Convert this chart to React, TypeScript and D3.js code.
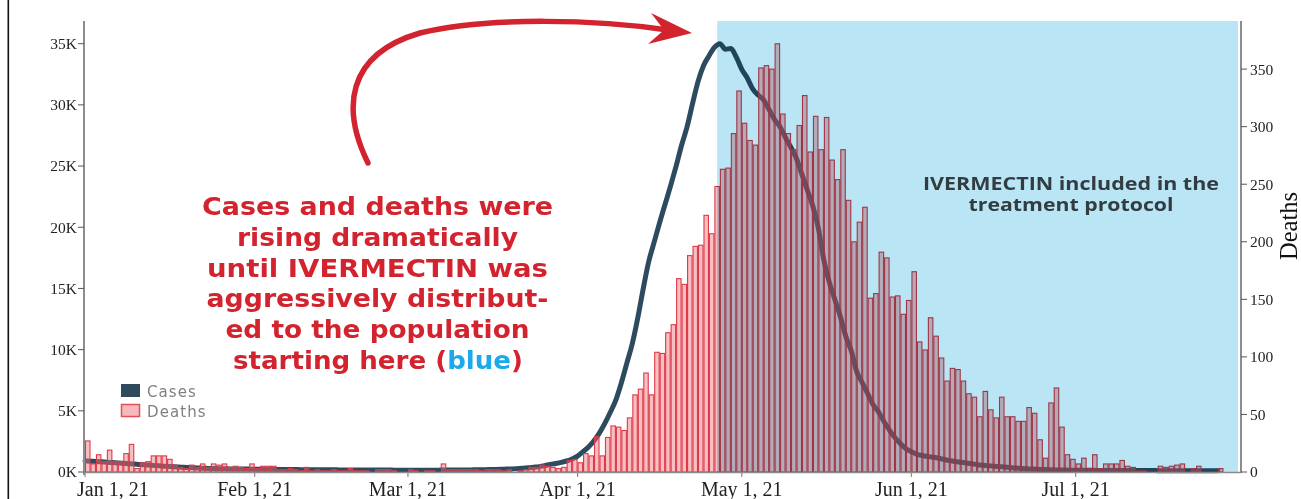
import React from "react";
import * as d3 from "d3";

// ---------- DATA ----------
const startDate = "2021-01-01";
// daily deaths (right axis), one per day from Jan 1, 2021
const deaths: number[] = [
  27, 7, 15, 9, 19, 9, 9, 16, 24, 3,
  8, 9, 14, 14, 14, 11, 6, 4, 3, 6,
  4, 7, 4, 7, 6, 7, 4, 5, 4, 3,
  7, 3, 5, 5, 5, 2, 2, 3, 2, 1,
  4, 1, 2, 1, 1, 2, 1, 1, 3, 1,
  1, 1, 0, 2, 2, 2, 1, 0, 0, 2,
  1, 0, 1, 1, 0, 7, 2, 2, 2, 2,
  2, 2, 1, 2, 2, 2, 1, 2, 0, 1,
  2, 4, 4, 6, 5, 4, 3, 4, 10, 11,
  8, 16, 14, 31, 14, 30, 40, 39, 36, 47,
  67, 72, 86, 67, 104, 103, 121, 128, 168, 163,
  188, 196, 197, 223, 207, 248, 263, 264, 294, 331,
  303, 288, 284, 351, 353, 350, 372, 311, 294, 280,
  301, 327, 278, 309, 280, 308, 271, 254, 280, 236,
  200, 217, 230, 151, 155, 191, 186, 152, 153, 137,
  149, 174, 113, 106, 134, 118, 99, 79, 90, 89,
  79, 68, 65, 48, 70, 54, 47, 65, 48, 48,
  44, 44, 56, 51, 28, 12, 60, 73, 39, 15,
  11, 7, 12, 3, 15, 3, 7, 7, 7, 10,
  5, 4, 1, 1, 0, 0, 5, 4, 5, 6,
  7, 0, 3, 5, 0, 0, 0, 3,
];
// daily cases (left axis)
const cases: number[] = [
  900, 880, 860, 830, 800, 770, 740, 710, 680, 650,
  610, 580, 550, 520, 490, 460, 430, 400, 380, 360,
  340, 320, 300, 290, 280, 270, 260, 250, 245, 240,
  235, 230, 225, 220, 215, 210, 205, 200, 200, 195,
  190, 190, 185, 180, 180, 175, 175, 170, 170, 165,
  165, 160, 160, 160, 155, 155, 155, 150, 150, 150,
  150, 150, 150, 150, 150, 155, 155, 160, 160, 165,
  170, 175, 180, 190, 200, 210, 225, 240, 255, 275,
  300, 340, 390, 440, 520, 620, 700, 790, 900, 1060,
  1300, 1660, 2050, 2550, 3200, 4000, 4900, 5900, 7300, 8900,
  10500, 12600, 15000, 17200, 18800, 20400, 21900, 23400, 25000, 26700,
  28200, 30100, 31900, 33200, 34000, 34700, 35000, 34550, 34600, 33900,
  32900, 32200, 31300, 30800, 30400, 29600, 28800, 28200, 27300, 26500,
  25600, 24300, 23000, 21700, 19900, 17300, 15500, 14100, 12700, 11100,
  9900, 8200, 7300, 6400, 5500, 4900, 4100, 3400, 2800, 2300,
  1900, 1650, 1450, 1350, 1270, 1200, 1120, 1020, 930, 860,
  800, 740, 680, 600, 560, 520, 480, 440, 400, 360,
  320, 290, 260, 240, 220, 200, 190, 175, 165, 155,
  150, 145, 140, 138, 135, 132, 130, 128, 125, 122,
  120, 118, 116, 115, 114, 113, 112, 111, 110, 110,
  108, 106, 105, 104, 102, 100, 100, 98,
];
const xTickDates = ["2021-01-01", "2021-02-01", "2021-03-01", "2021-04-01", "2021-05-01", "2021-06-01", "2021-07-01"];
const xTickLabels = ["Jan 1, 21", "Feb 1, 21", "Mar 1, 21", "Apr 1, 21", "May 1, 21", "Jun 1, 21", "Jul 1, 21"];
const leftTicks = [0, 5000, 10000, 15000, 20000, 25000, 30000, 35000];
const leftTickLabels = ["0K", "5K", "10K", "15K", "20K", "25K", "30K", "35K"];
const rightTicks = [0, 50, 100, 150, 200, 250, 300, 350];
const ivermectinStart = "2021-04-26T12:00:00Z";
const domainEnd = "2021-07-31T05:00:00Z";
const annotationLines = [
  "Cases and deaths were",
  "rising dramatically",
  "until IVERMECTIN was",
  "aggressively distribut-",
  "ed to the population",
];
const annotationLast = ["starting here (", "blue", ")"];
const protocolLines = ["IVERMECTIN included in the", "treatment protocol"];

// ---------- CHART ----------
const DAY = 86400000;
const t0 = new Date(startDate + "T00:00:00Z").getTime();
const dayDate = (i: number) => new Date(t0 + i * DAY);

export default function App() {
  const W = 1301, H = 499;
  const x = d3.scaleUtc().domain([new Date(t0), new Date(domainEnd)]).range([85, 1241]);
  const yL = d3.scaleLinear().domain([0, 36855]).range([472, 21]);
  const yR = d3.scaleLinear().domain([0, 391.8]).range([472, 21]);

  const line = d3
    .line<number>()
    .x((_, i) => x(dayDate(i)))
    .y((d) => yL(d))
    .curve(d3.curveMonotoneX);

  const blueX0 = x(new Date(ivermectinStart));
  const blueX1 = 1238;

  const red = "#d3232f";
  const axisGrey = "#8c8c8c";
  const serif = "'Liberation Serif', 'Times New Roman', serif";

  const textWidths = [351, 281, 341, 342, 304];

  return (
    <svg width={W} height={H} style={{ position: "absolute", left: 0, top: 0, background: "#fff" }}>
      <rect x={0} y={0} width={W} height={H} fill="#fff" />
      {/* left frame line */}
      <rect x={7.5} y={0} width={1.6} height={H} fill="#111" />

      {/* cases line (under bars) */}
      <path d={line(cases) || ""} fill="none" stroke="#2c4b5e" strokeWidth={5} strokeLinejoin="round" strokeLinecap="round" />

      {/* deaths bars */}
      <g>
        {deaths.map((v, i) => {
          const xa = x(dayDate(i));
          const xb = x(dayDate(i + 1));
          return (
            <rect
              key={i}
              x={xa + 0.5}
              y={yR(v)}
              width={Math.max(0, xb - xa - 1)}
              height={yR(0) - yR(v)}
              fill="rgba(240,110,118,0.45)"
              stroke="#dc3b49"
              strokeWidth={1.1}
            />
          );
        })}
      </g>

      {/* blue ivermectin region (multiply) */}
      <rect
        x={blueX0}
        y={21}
        width={blueX1 - blueX0}
        height={yR(0) - 21}
        fill="#b9e5f4"
        style={{ mixBlendMode: "multiply" }}
      />

      {/* x axis */}
      <line x1={84} x2={1241} y1={472.5} y2={472.5} stroke={axisGrey} strokeWidth={1.5} />
      {xTickDates.map((d, i) => {
        const xx = x(new Date(d + "T00:00:00Z"));
        return (
          <g key={d}>
            <line x1={xx} x2={xx} y1={472} y2={477} stroke={axisGrey} strokeWidth={1.2} />
            <text
              x={i === 0 ? 77 : xx}
              y={496}
              textAnchor={i === 0 ? "start" : "middle"}
              fontFamily={serif}
              fontSize={20}
              fill="#222"
            >
              {xTickLabels[i]}
            </text>
          </g>
        );
      })}

      {/* left axis */}
      <line x1={84} x2={84} y1={21} y2={475} stroke={axisGrey} strokeWidth={2} />
      {leftTicks.map((t, i) => (
        <g key={t}>
          <line x1={78} x2={84} y1={yL(t)} y2={yL(t)} stroke="#555" strokeWidth={1} />
          <text x={77} y={yL(t)} dy="0.35em" textAnchor="end" fontFamily={serif} fontSize={15.5} fill="#222">
            {leftTickLabels[i]}
          </text>
        </g>
      ))}

      {/* right axis */}
      <line x1={1241} x2={1241} y1={21} y2={473} stroke={axisGrey} strokeWidth={2} />
      {rightTicks.map((t) => (
        <g key={t}>
          <line x1={1241} x2={1247} y1={yR(t)} y2={yR(t)} stroke="#555" strokeWidth={1} />
          <text x={1250} y={yR(t)} dy="0.35em" textAnchor="start" fontFamily={serif} fontSize={15.5} fill="#222">
            {t}
          </text>
        </g>
      ))}
      <text
        transform="translate(1297,226) rotate(-90)"
        textAnchor="middle"
        fontFamily={serif}
        fontSize={24.5}
        fill="#111"
      >
        Deaths
      </text>

      {/* legend */}
      <rect x={121} y={384} width={19} height={13} fill="#2e4a5c" />
      <text x={147} y={397} fontFamily="'DejaVu Sans', sans-serif" fontSize={15} letterSpacing={1.1} fill="#808080">
        Cases
      </text>
      <rect x={121.5} y={404.5} width={18} height={12} fill="#f7b9bc" stroke="#e0505a" strokeWidth={1.5} />
      <text x={147} y={416.5} fontFamily="'DejaVu Sans', sans-serif" fontSize={15} letterSpacing={1.1} fill="#808080">
        Deaths
      </text>

      {/* red annotation */}
      {annotationLines.map((s, i) => (
        <text
          key={i}
          x={377.5}
          y={215 + i * 30.8}
          textAnchor="middle"
          fontFamily="'DejaVu Sans', sans-serif"
          fontWeight={700}
          fontSize={24.5}
          fill={red}
          textLength={textWidths[i]}
          lengthAdjust="spacingAndGlyphs"
        >
          {s}
        </text>
      ))}
      <text
        x={378}
        y={215 + 5 * 30.8}
        textAnchor="middle"
        fontFamily="'DejaVu Sans', sans-serif"
        fontWeight={700}
        fontSize={24.5}
        fill={red}
        textLength={290}
        lengthAdjust="spacingAndGlyphs"
      >
        {annotationLast[0]}
        <tspan fill="#1ba9ea">{annotationLast[1]}</tspan>
        {annotationLast[2]}
      </text>

      {/* protocol text */}
      {protocolLines.map((s, i) => (
        <text
          key={s}
          x={1071}
          y={189.5 + i * 21.5}
          textAnchor="middle"
          fontFamily="'Open Sans', sans-serif"
          fontWeight={700}
          fontSize={17.5}
          fill="#323c41"
          textLength={i === 0 ? 296 : 205}
          lengthAdjust="spacingAndGlyphs"
        >
          {s}
        </text>
      ))}

      {/* curved arrow */}
      <path
        d="M368,163 C342,110 345,55 420,33 C490,16 600,20 668,30"
        fill="none"
        stroke={red}
        strokeWidth={5.5}
        strokeLinecap="round"
      />
      <path d="M651,13 L692,33 L648,44 L664,30 Z" fill={red} />
    </svg>
  );
}
